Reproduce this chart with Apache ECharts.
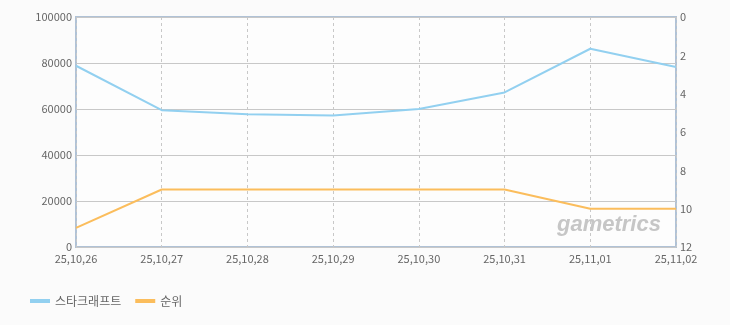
<!DOCTYPE html>
<html><head><meta charset="utf-8">
<script src="https://cdn.jsdelivr.net/npm/echarts@6/dist/echarts.min.js"></script>
<style>html,body{margin:0;padding:0;background:#fbfbfb}#c{width:730px;height:325px}</style>
</head><body><div id="c"></div>
<script>
const categories = ['25,10,26','25,10,27','25,10,28','25,10,29','25,10,30','25,10,31','25,11,01','25,11,02'];
const viewers = [78800, 59500, 57700, 57200, 60000, 67200, 86200, 78300];
const ranks = [11, 9, 9, 9, 9, 9, 10, 10];
const seriesNames = ['스타크래프트', '순위'];

const font = '"Noto Sans CJK KR", "DejaVu Sans", sans-serif';
const chart = echarts.init(document.getElementById('c'));
chart.setOption({
  backgroundColor: '#fbfbfb',
  animation: false,
  textStyle: { fontFamily: font },
  grid: { left: 76, right: 54, top: 17, bottom: 78, show: true, borderColor: '#b0c2d6', borderWidth: 2, backgroundColor: '#fdfdfd' },
  legend: {
    left: 25, top: 290, itemWidth: 20, itemHeight: 4, itemGap: 14,
    icon: 'rect',
    textStyle: { color: '#666', fontSize: 12, fontFamily: font },
    data: seriesNames
  },
  xAxis: {
    type: 'category', data: categories, boundaryGap: false,
    axisLine: { show: false },
    axisTick: { show: false },
    axisLabel: { color: '#666', fontSize: 11, margin: 6, fontFamily: font, interval: 0 },
    splitLine: { show: true, lineStyle: { color: '#c8c8c8', type: [3, 3], width: 1 } }
  },
  yAxis: [
    {
      type: 'value', min: 0, max: 100000, interval: 20000,
      axisLine: { show: false }, axisTick: { show: false },
      axisLabel: { color: '#666', fontSize: 11, margin: 4, fontFamily: font, formatter: v => String(v) },
      splitLine: { show: true, lineStyle: { color: '#c8c8c8', width: 1 } }
    },
    {
      type: 'value', min: 0, max: 12, interval: 2, inverse: true, position: 'right',
      axisLine: { show: false }, axisTick: { show: false },
      axisLabel: { color: '#666', fontSize: 11, margin: 4, fontFamily: font },
      splitLine: { show: false }
    }
  ],
  graphic: [{
    type: 'text', left: 557, top: 214, z: 1,
    style: { text: 'gametrics', fill: '#c6c6c6', font: 'italic bold 22px "Liberation Sans", sans-serif' }
  }],
  series: [
    { name: seriesNames[0], type: 'line', yAxisIndex: 0, data: viewers, symbol: 'none',
      lineStyle: { color: '#92d0f0', width: 2 }, itemStyle: { color: '#92d0f0' }, z: 3 },
    { name: seriesNames[1], type: 'line', yAxisIndex: 1, data: ranks, symbol: 'none',
      lineStyle: { color: '#fbbd5c', width: 2 }, itemStyle: { color: '#fbbd5c' }, z: 3 }
  ]
});
</script></body></html>
